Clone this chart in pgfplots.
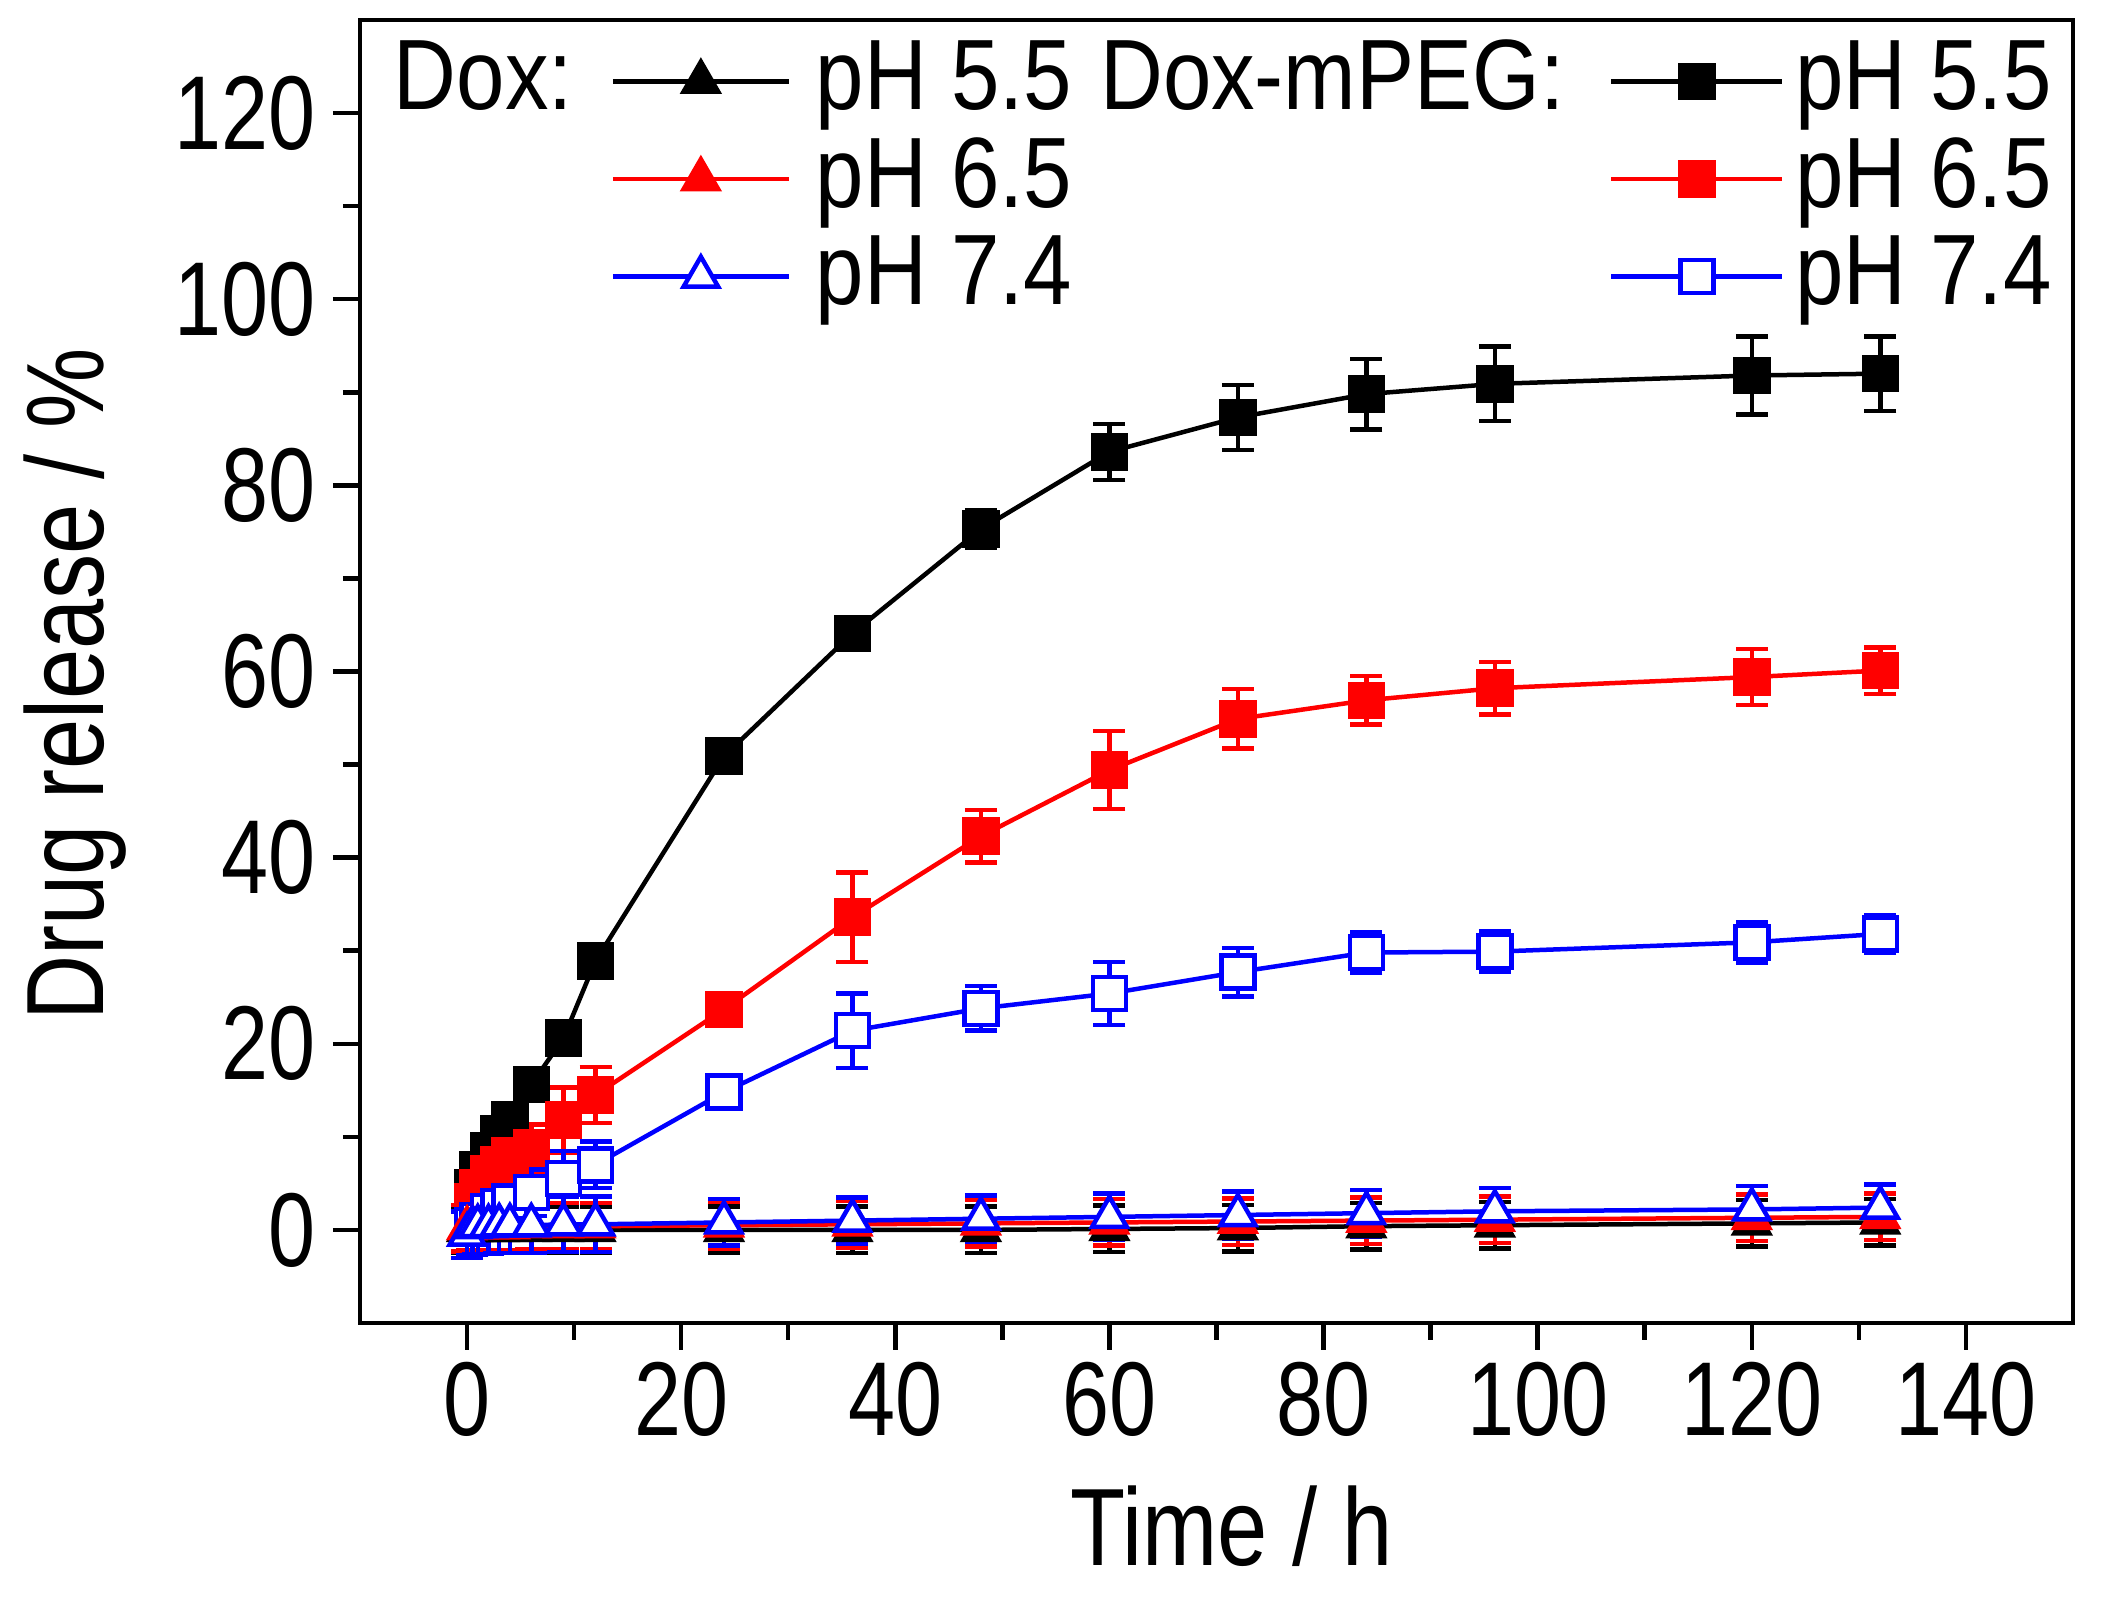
\documentclass[border=0pt]{standalone}
\usepackage{pgfplots}
\pgfplotsset{compat=1.18}
\usepackage{fontspec}
\setmainfont{Liberation Sans}[FakeStretch=0.805]
\newfontfamily\tickfont{Liberation Sans}[FakeStretch=0.805]
\newfontfamily\legfont{Liberation Sans}[FakeStretch=0.87]
\newfontfamily\labfont{Liberation Sans}[FakeStretch=0.82]
\pgfplotsset{
  doxleg/.style={legend image code/.code={\path[draw=none,fill=none] (-8pt,0pt) -- (40.6pt,0pt);\draw[mark repeat=2,mark phase=2,##1] plot coordinates {(0pt,0pt) (17.6pt,0pt) (35.2pt,0pt)};}},
  pegleg/.style={legend image code/.code={\path[draw=none,fill=none] (-9.4pt,0pt) -- (36.8pt,0pt);\draw[mark repeat=2,mark phase=2,##1] plot coordinates {(0pt,0pt) (17.1pt,0pt) (34.2pt,0pt)};}},
  gapleg/.style={legend image code/.code={\path[draw=none,fill=none] (0pt,0pt) -- (5.6pt,0pt);}},
  nilleg/.style={legend image code/.code={}},
}
\begin{document}
\begin{tikzpicture}
\useasboundingbox (-72pt,-55.8pt) rectangle (349.2pt,264.6pt);
\begin{axis}[
  scale only axis, width=342.6pt, height=260.6pt,
  xmin=-10, xmax=150, ymin=-10, ymax=130,
  xtick={0,20,...,140}, ytick={0,20,...,120},
  minor x tick num=1, minor y tick num=1,
  axis line style={line width=0.9pt},
  tick align=outside, xtick pos=bottom, ytick pos=left,
  major tick length=5.4pt, minor tick length=3.4pt,
  every tick/.style={black, line width=0.9pt},
  /pgf/number format/assume math mode=true,
  tick label style={font=\tickfont\fontsize{21}{24}\selectfont},
  xticklabel style={yshift=1pt},
  xlabel={Time / h}, ylabel={Drug release / \%},
  every axis y label/.style={at={(axis description cs:-0.1664,0.49)}, rotate=90, anchor=center, font=\labfont\fontsize{22}{26}\selectfont},
  every axis x label/.style={at={(axis description cs:0.509,0)}, anchor=base, yshift=-48.6pt, font=\labfont\fontsize{22}{26}\selectfont},
  legend columns=4,
  legend cell align=left,
  legend style={at={(axis description cs:0,1)}, anchor=north west, xshift=6.8pt, yshift=-2.6pt,
    draw=none, fill=none, inner sep=0pt, outer sep=0pt,
    font=\legfont\fontsize{20}{22}\selectfont, row sep=0pt, column sep=0pt,
    nodes={inner sep=0pt, text height=15.4pt, text depth=4.1pt}},
  error bars/error bar style={line width=0.9pt},
  error bars/error mark options={rotate=90, mark size=3.2pt, line width=0.9pt},
]
% legend
\addlegendimage{nilleg}\addlegendentry{Dox:}
\addlegendimage{doxleg, black, line width=0.9pt, mark=triangle*, mark size=4pt, mark options={fill=black}}\addlegendentry{pH 5.5}
\addlegendimage{gapleg}\addlegendentry{Dox-mPEG:}
\addlegendimage{pegleg, black, line width=0.9pt, mark=square*, mark size=3.3pt, mark options={fill=black}}\addlegendentry{pH 5.5}
\addlegendimage{nilleg}\addlegendentry{}
\addlegendimage{doxleg, red, line width=0.9pt, mark=triangle*, mark size=4pt, mark options={fill=red}}\addlegendentry{pH 6.5}
\addlegendimage{gapleg}\addlegendentry{}
\addlegendimage{pegleg, red, line width=0.9pt, mark=square*, mark size=3.3pt, mark options={fill=red}}\addlegendentry{pH 6.5}
\addlegendimage{nilleg}\addlegendentry{}
\addlegendimage{doxleg, blue, line width=0.9pt, mark=triangle*, mark size=4pt, mark options={fill=white}}\addlegendentry{pH 7.4}
\addlegendimage{gapleg}\addlegendentry{}
\addlegendimage{pegleg, blue, line width=0.9pt, mark=square*, mark size=3.3pt, mark options={fill=white}}\addlegendentry{pH 7.4}

% Dox-mPEG pH 5.5
\addplot[forget plot, black, line width=0.9pt, mark=square*, mark size=3.3pt, mark options={fill=black},
  error bars/.cd, y dir=both, y explicit] coordinates {
  (0.5,4.5) +- (0,0.5) (1,6.5) +- (0,0.8) (2,8.5) +- (0,0.8) (3,10.3) +- (0,0.8) (4,11.8) +- (0,1)
  (6,15.6) +- (0,1) (9,20.6) +- (0,1) (12,28.9) +- (0,1) (24,50.9) +- (0,1) (36,64.1) +- (0,1)
  (48,75.3) +- (0,2) (60,83.6) +- (0,3) (72,87.3) +- (0,3.5) (84,89.8) +- (0,3.8) (96,90.9) +- (0,4)
  (120,91.8) +- (0,4.2) (132,92.0) +- (0,4)};
% Dox-mPEG pH 6.5
\addplot[forget plot, red, line width=0.9pt, mark=square*, mark size=3.3pt, mark options={fill=red},
  error bars/.cd, y dir=both, y explicit] coordinates {
  (0.5,3) +- (0,1) (1,4.5) +- (0,1.5) (2,6) +- (0,2) (3,7) +- (0,2) (4,8) +- (0,2)
  (6,8.8) +- (0,2.5) (9,11.8) +- (0,3.5) (12,14.5) +- (0,3) (24,23.7) +- (0,1.2) (36,33.6) +- (0,4.8)
  (48,42.3) +- (0,2.8) (60,49.4) +- (0,4.2) (72,54.9) +- (0,3.2) (84,56.9) +- (0,2.6) (96,58.2) +- (0,2.8)
  (120,59.4) +- (0,3) (132,60.1) +- (0,2.5)};
% Dox-mPEG pH 7.4
\addplot[forget plot, blue, line width=0.9pt, mark=square*, mark size=3.3pt, mark options={fill=white},
  error bars/.cd, y dir=both, y explicit] coordinates {
  (0.5,0.5) +- (0,1.5) (1,1) +- (0,2) (2,2) +- (0,2) (3,2.5) +- (0,2.5) (4,3) +- (0,2.5)
  (6,4) +- (0,2.5) (9,5.5) +- (0,3) (12,7) +- (0,2.5) (24,14.8) +- (0,1.5) (36,21.4) +- (0,4)
  (48,23.8) +- (0,2.4) (60,25.4) +- (0,3.4) (72,27.7) +- (0,2.6) (84,29.8) +- (0,2.2) (96,29.9) +- (0,2.2)
  (120,30.9) +- (0,2.2) (132,31.8) +- (0,2)};
% Dox pH 5.5
\addplot[forget plot, black, line width=0.9pt, mark=triangle*, mark size=4pt, mark options={fill=black},
  error bars/.cd, y dir=both, y explicit] coordinates {
  (0,0) +- (0,2.5) (0.5,0) +- (0,2.5) (1,0) +- (0,2.5) (2,0) +- (0,2.5) (3,0) +- (0,2.5) (4,0) +- (0,2.5)
  (6,0) +- (0,2.5) (9,0) +- (0,2.5) (12,0) +- (0,2.5) (24,0) +- (0,2.5) (36,0) +- (0,2.5)
  (48,0) +- (0,2.5) (60,0.1) +- (0,2.5) (72,0.2) +- (0,2.5) (84,0.4) +- (0,2.5) (96,0.5) +- (0,2.5)
  (120,0.7) +- (0,2.5) (132,0.8) +- (0,2.5)};
% Dox pH 6.5
\addplot[forget plot, red, line width=0.9pt, mark=triangle*, mark size=4pt, mark options={fill=red},
  error bars/.cd, y dir=both, y explicit] coordinates {
  (0,0.2) +- (0,2.5) (0.5,0.3) +- (0,2.5) (1,0.3) +- (0,2.5) (2,0.3) +- (0,2.5) (3,0.3) +- (0,2.5) (4,0.3) +- (0,2.5)
  (6,0.4) +- (0,2.5) (9,0.4) +- (0,2.5) (12,0.4) +- (0,2.5) (24,0.5) +- (0,2.5) (36,0.6) +- (0,2.5)
  (48,0.7) +- (0,2.5) (60,0.8) +- (0,2.5) (72,0.9) +- (0,2.5) (84,1.0) +- (0,2.5) (96,1.1) +- (0,2.5)
  (120,1.3) +- (0,2.5) (132,1.4) +- (0,2.5)};
% Dox pH 7.4
\addplot[forget plot, blue, line width=0.9pt, mark=triangle*, mark size=4pt, mark options={fill=white},
  error bars/.cd, y dir=both, y explicit] coordinates {
  (0,-0.5) +- (0,2.5) (0.5,0.3) +- (0,3) (1,0.4) +- (0,3) (2,0.4) +- (0,3) (3,0.5) +- (0,3) (4,0.5) +- (0,3)
  (6,0.5) +- (0,3) (9,0.6) +- (0,3) (12,0.6) +- (0,3) (24,0.8) +- (0,2.5) (36,1.0) +- (0,2.5)
  (48,1.2) +- (0,2.5) (60,1.4) +- (0,2.5) (72,1.6) +- (0,2.5) (84,1.8) +- (0,2.5) (96,2.0) +- (0,2.5)
  (120,2.2) +- (0,2.5) (132,2.4) +- (0,2.5)};
\end{axis}
\end{tikzpicture}
\end{document}
